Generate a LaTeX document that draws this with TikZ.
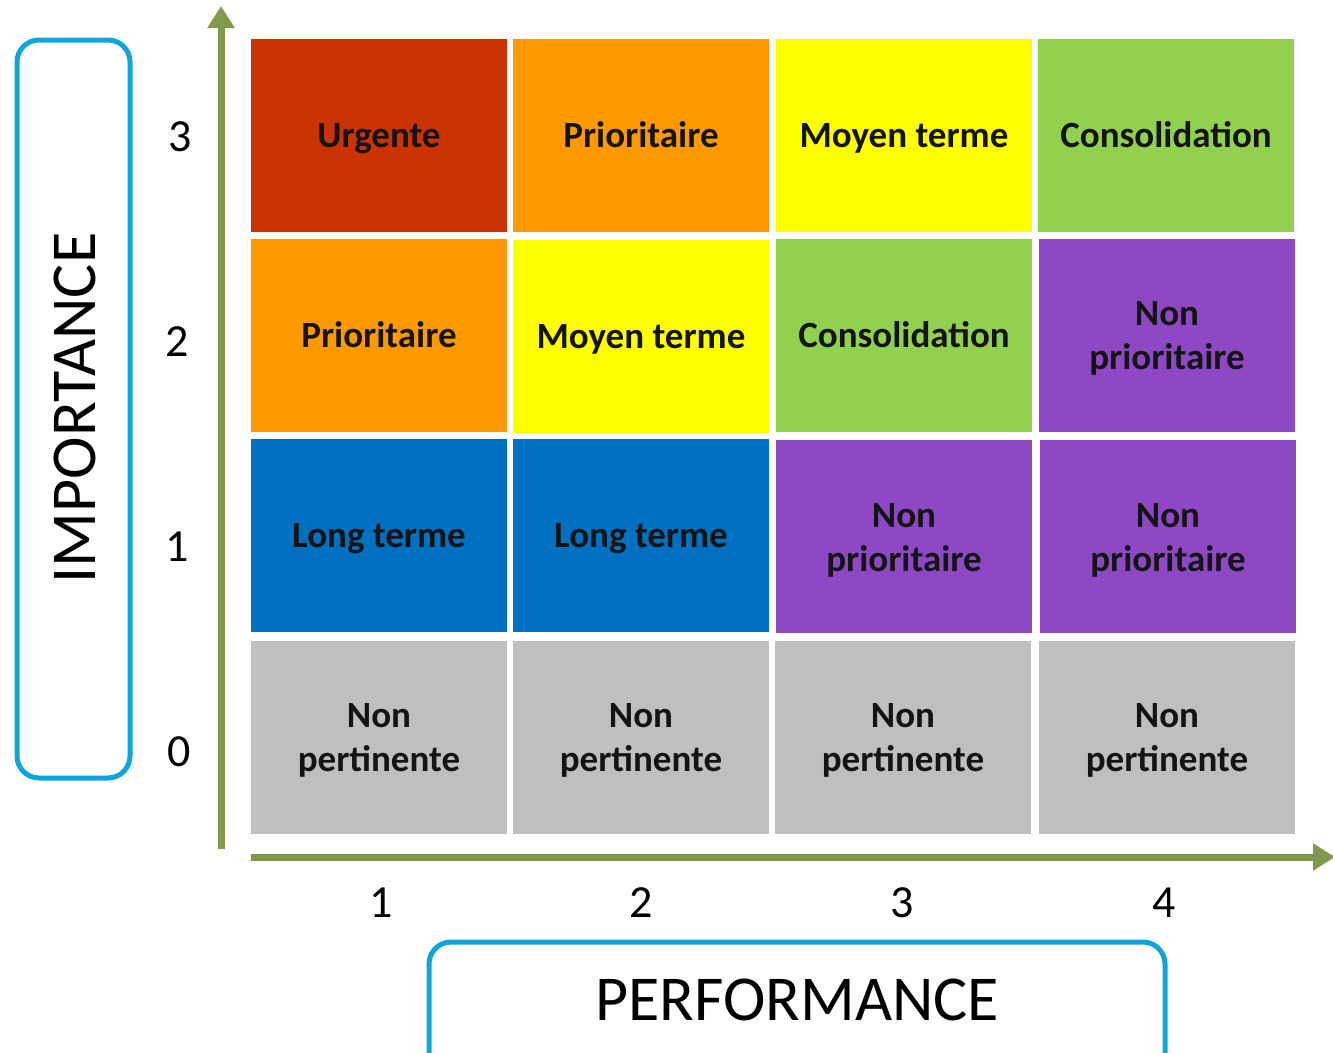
\documentclass[tikz,border=0pt]{standalone}
\usepackage{fontspec}
\setmainfont{Carlito}
\usetikzlibrary{arrows.meta}
\definecolor{cRed}{RGB}{204,51,0}
\definecolor{cOrange}{RGB}{255,153,0}
\definecolor{cYellow}{RGB}{255,255,0}
\definecolor{cGreen}{RGB}{146,208,80}
\definecolor{cPurple}{RGB}{142,72,198}
\definecolor{cBlue}{RGB}{0,112,192}
\definecolor{cGray}{RGB}{191,191,191}
\definecolor{cAxis}{RGB}{127,154,72}
\definecolor{cFrame}{RGB}{14,165,219}
\definecolor{cText}{RGB}{20,20,20}
\tikzset{
  cell/.style={fill=#1, minimum width=256pt, minimum height=193pt, inner sep=0pt,
    text height=32pt, text depth=8pt,
    align=center, text=cText, font=\bfseries\fontsize{37}{44}\selectfont},
  twoline/.style={text height=77pt, text depth=8pt},
  tick/.style={font=\fontsize{46}{46}\selectfont, inner sep=0pt},
  axis/.style={cAxis, line width=7pt, -{Triangle[length=22pt,width=26pt]}},
  frame/.style={draw=cFrame, line width=5pt, rounded corners=22pt},
  axislabel/.style={font=\fontsize{64}{64}\selectfont, inner sep=0pt}
}
\begin{document}
\begin{tikzpicture}[x=1pt,y=-1pt]
\useasboundingbox (0,0) rectangle (1333,1052);
% frames
\draw[frame] (17,40) rectangle (130,778);
\draw[frame] (429,942) rectangle (1165,1080);
\node[axislabel, rotate=90] (imp) at (75,408) {IMPORTANCE};
\node[axislabel] (perf) at (797,1000) {PERFORMANCE};
% row 3
\node[cell=cRed]    (c31) at (379,135.5) {Urgente};
\node[cell=cOrange] (c32) at (641,135.5) {Prioritaire};
\node[cell=cYellow] (c33) at (904,135.5) {Moyen terme};
\node[cell=cGreen]  (c34) at (1166,135.5) {Consolidation};
% row 2
\node[cell=cOrange] (c21) at (379,335) {Prioritaire};
\node[cell=cYellow] (c22) at (641,336) {Moyen terme};
\node[cell=cGreen]  (c23) at (904,335.5) {Consolidation};
\node[cell=cPurple, twoline] (c24) at (1167,335) {Non\\prioritaire};
% row 1
\node[cell=cBlue]   (c11) at (379,535) {Long terme};
\node[cell=cBlue]   (c12) at (641,535) {Long terme};
\node[cell=cPurple, twoline] (c13) at (904,536.5) {Non\\prioritaire};
\node[cell=cPurple, twoline] (c14) at (1168,536.5) {Non\\prioritaire};
% row 0
\node[cell=cGray, twoline]   (c01) at (379,737) {Non\\pertinente};
\node[cell=cGray, twoline]   (c02) at (641,737) {Non\\pertinente};
\node[cell=cGray, twoline]   (c03) at (903,737) {Non\\pertinente};
\node[cell=cGray, twoline]   (c04) at (1167,737) {Non\\pertinente};
% axes
\coordinate (ybot) at (221,849);
\coordinate (ytop) at (221,6);
\coordinate (xl) at (251,857);
\coordinate (xr) at (1335,857);
\draw[axis] (ybot) -- (ytop);
\draw[axis] (xl) -- (xr);
% ticks
\node[tick] (t3) at (180,137) {3};
\node[tick] (t2) at (177,342) {2};
\node[tick] (t1) at (177,547) {1};
\node[tick] (t0) at (179,752) {0};
\node[tick] (u1) at (381,903) {1};
\node[tick] (u2) at (641,903) {2};
\node[tick] (u3) at (902,903) {3};
\node[tick] (u4) at (1164,903) {4};
\end{tikzpicture}
\end{document}
